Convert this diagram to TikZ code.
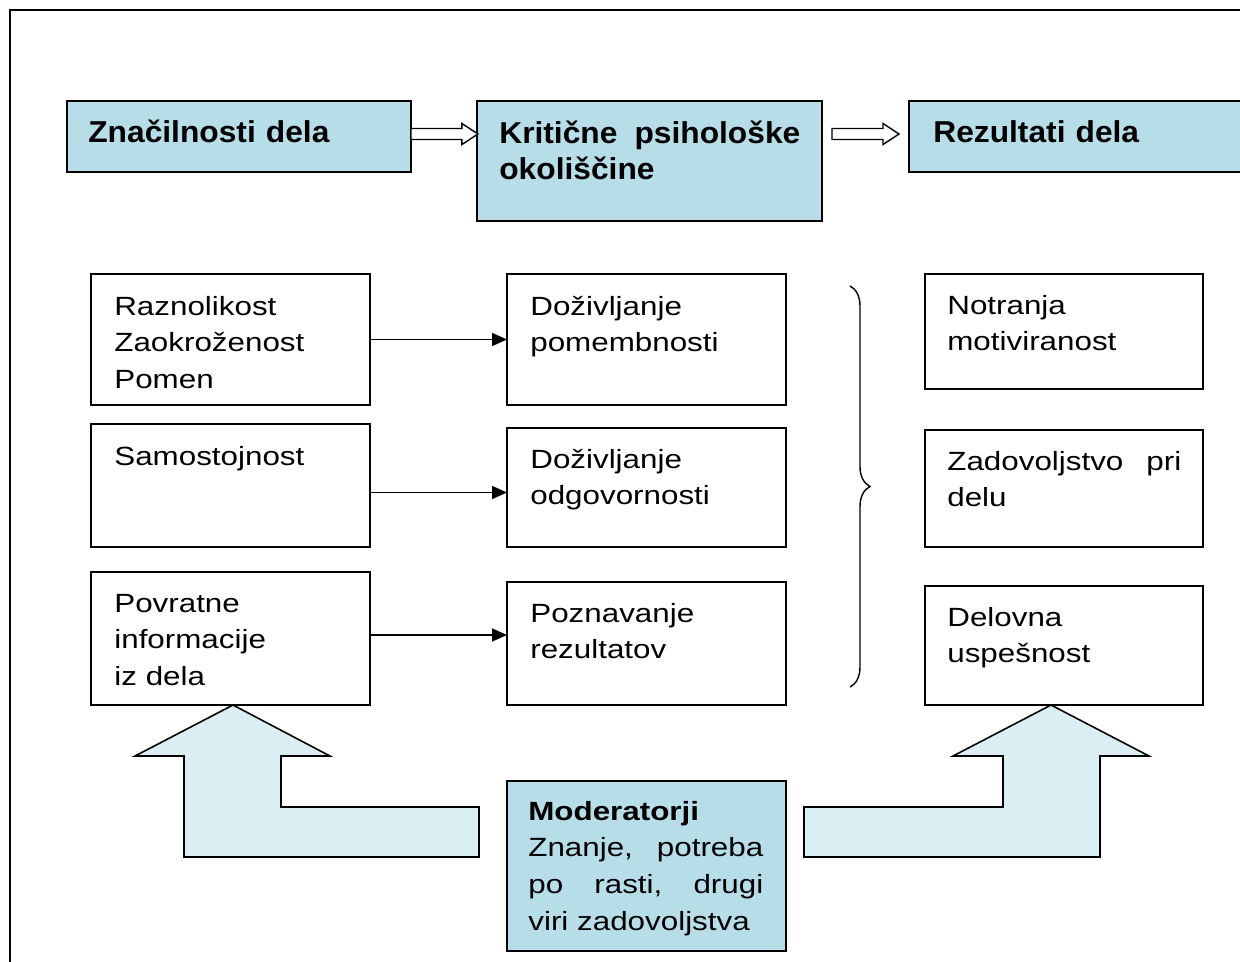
\documentclass[tikz,border=0pt]{standalone}
\usepackage{fontspec}
\setmainfont{Liberation Sans}
\newfontfamily\bodyfont[FakeStretch=1.19]{Liberation Sans}
\newfontfamily\headfont[FakeStretch=1.05]{Liberation Sans}
\usetikzlibrary{arrows.meta, decorations.pathreplacing}
\definecolor{headblue}{RGB}{183,221,232}
\definecolor{arrowblue}{RGB}{218,238,243}

\begin{document}
\begin{tikzpicture}[x=0.02cm, y=-0.02cm,
  box/.style={shape=rectangle, draw, line width=0.8pt, anchor=north west, inner sep=0pt, outer sep=0pt, minimum width=5.58cm},
  headbox/.style={box, fill=headblue, minimum height=1.42cm},
  txt/.style={anchor=base west, inner sep=0pt, text width=4.7cm, align=left, font=\bodyfont\fontsize{15}{21}\selectfont},
  headtxt/.style={txt, text width=6.02cm, font=\headfont\bfseries\fontsize{17.2}{20.5}\selectfont},
  link/.style={line width=0.8pt, -{Triangle[length=0.3cm, width=0.26cm]}},
  hollow/.style={draw, line width=0.8pt, fill=white},
  bigarrow/.style={draw, line width=0.9pt, fill=arrowblue, line join=miter}]
\useasboundingbox (0,0) rectangle (1240,961);
\draw[line width=1pt] (10,10) rectangle (1260,985);

\node[headbox, minimum width=6.88cm] (Z) at (67,101) {};
\node[headbox, minimum width=6.9cm, minimum height=2.4cm] (K) at (477,101) {};
\node[headbox, minimum width=7cm] (R) at (909,101) {};
\node[headtxt] (Zt) at ([shift={(21,41)}]Z.north west) {Značilnosti dela};
\node[headtxt] (Kt) at ([shift={(22,42)}]K.north west) {Kritične \hfill psihološke\\okoliščine};
\node[headtxt] (Rt) at ([shift={(24,41)}]R.north west) {Rezultati dela};

\draw[hollow] (Z.east) ++(0,-8) -- ++(51,0) -- ++(0,-5) -- ++(16,10.5) -- ++(-16,10.5) -- ++(0,-5) -- ++(-51,0) -- cycle;
\draw[hollow] (R.west) ++(-77,-8) -- ++(51,0) -- ++(0,-5) -- ++(16,10.5) -- ++(-16,10.5) -- ++(0,-5) -- ++(-51,0) -- cycle;

\node[box, minimum height=2.62cm] (L1) at (91,274) {};
\node[box, minimum height=2.46cm] (L2) at (91,424) {};
\node[box, minimum height=2.66cm] (L3) at (91,572) {};
\node[txt] (L1t) at ([shift={(23,41)}]L1.north west) {Raznolikost\\Zaokroženost\\Pomen};
\node[txt] (L2t) at ([shift={(23,41)}]L2.north west) {Samostojnost};
\node[txt] (L3t) at ([shift={(23,40)}]L3.north west) {Povratne\\informacije\\iz dela};

\node[box, minimum height=2.62cm] (M1) at (507,274) {};
\node[box, minimum height=2.38cm] (M2) at (507,428) {};
\node[box, minimum height=2.46cm] (M3) at (507,582) {};
\node[txt] (M1t) at ([shift={(23,41)}]M1.north west) {Doživljanje\\pomembnosti};
\node[txt] (M2t) at ([shift={(23,40)}]M2.north west) {Doživljanje\\odgovornosti};
\node[txt] (M3t) at ([shift={(23,40)}]M3.north west) {Poznavanje\\rezultatov};

\node[box, minimum width=5.56cm, minimum height=2.3cm] (R1) at (925,274) {};
\node[box, minimum width=5.56cm, minimum height=2.34cm] (R2) at (925,430) {};
\node[box, minimum width=5.56cm, minimum height=2.38cm] (R3) at (925,586) {};
\node[txt] (R1t) at ([shift={(22,40)}]R1.north west) {Notranja\\motiviranost};
\node[txt, text width=4.68cm] (R2t) at ([shift={(22,40)}]R2.north west) {Zadovoljstvo \hfill pri\\delu};
\node[txt] (R3t) at ([shift={(22,40)}]R3.north west) {Delovna\\uspešnost};

\draw[link] (L1) -- (M1);
\draw[link] ([yshift=-0.14cm]L2.east) -- ([yshift=-0.14cm]L2.east -| M2.west);
\draw[link] ([yshift=0.07cm]L3.east) -- ([yshift=0.07cm]L3.east -| M3.west);

\draw[line width=0.8pt, decorate, decoration={brace, amplitude=0.4cm}] (850,286) -- (850,687);

\node[box, fill=headblue, minimum height=3.4cm] (Mod) at (507,781) {};
\node[txt] (Modt) at ([shift={(21,39)}]Mod.north west) {\textbf{Moderatorji}\\Znanje, \hfill potreba\\po \hfill rasti, \hfill drugi\\viri zadovoljstva};

\draw[bigarrow] (233,705) -- (330,756) -- (281,756) -- (281,807) -- (479,807) -- (479,857) -- (184,857) -- (184,756) -- (135,756) -- cycle;
\draw[bigarrow] (1051,705) -- (1149,756) -- (1100,756) -- (1100,857) -- (804,857) -- (804,807) -- (1003,807) -- (1003,756) -- (953,756) -- cycle;
\end{tikzpicture}
\end{document}
